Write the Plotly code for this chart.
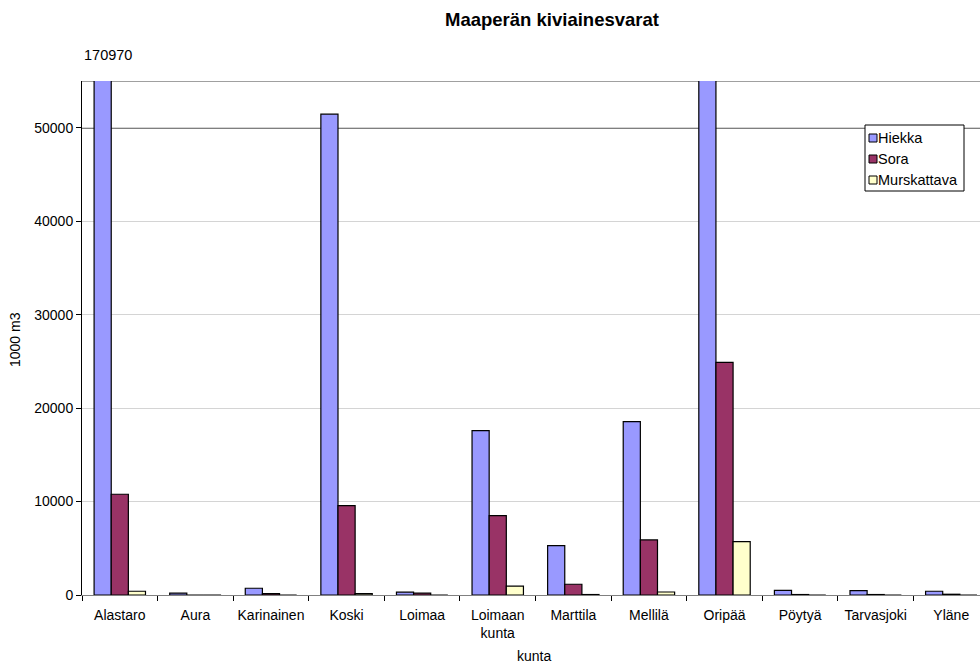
import plotly.graph_objects as go

categories = ["Alastaro", "Aura", "Karinainen", "Koski", "Loimaa", "Loimaan<br>kunta",
              "Marttila", "Mellilä", "Oripää", "Pöytyä", "Tarvasjoki", "Yläne"]
hiekka = [170970, 200, 720, 51450, 300, 17590, 5280, 18560, 70000, 500, 460, 400]
sora = [10780, 0, 150, 9560, 200, 8490, 1150, 5890, 24900, 50, 50, 80]
murskattava = [400, 0, 0, 150, 0, 960, 50, 320, 5710, 0, 0, 0]
series_names = ["Hiekka", "Sora", "Murskattava"]
series_colors = ["#9999FF", "#993366", "#FFFFCC"]
y_ticks = [0, 10000, 20000, 30000, 40000, 50000]

FONT = "Liberation Sans, Arial, sans-serif"
W, H = 980, 664
L, R, T, B = 82, 0, 81, 69
PW, PH = W - L - R, H - T - B


def px(x):
    return (x - L) / PW


def py(y):
    return (H - B - y) / PH


fig = go.Figure()
for name, vals, col in zip(series_names, [hiekka, sora, murskattava], series_colors):
    fig.add_trace(go.Bar(
        x=categories, y=vals, name=name,
        marker=dict(color=col, line=dict(color="#000000", width=1.2)),
    ))

fig.update_layout(
    width=W, height=H,
    margin=dict(l=L, r=R, t=T, b=B),
    paper_bgcolor="white", plot_bgcolor="white",
    barmode="group", bargap=0.32, bargroupgap=0,
    font=dict(family=FONT, size=14, color="black"),
    title=dict(text="<b>Maaperän kiviainesvarat</b>", x=552 / W, xanchor="center",
               y=1 - 20 / H, yanchor="middle", font=dict(size=18.5, family=FONT)),
    showlegend=False,
    xaxis=dict(
        type="category", range=[-0.5, 11.38],
        showline=True, linecolor="#808080", linewidth=1,
        ticks="outside", tickson="boundaries", ticklen=5, tickcolor="#000000",
        showgrid=False, tickangle=0, ticklabelstandoff=7,
        tickfont=dict(size=14),
    ),
    yaxis=dict(
        range=[0, 55000], tickvals=y_ticks, tickformat="d",
        showline=True, linecolor="#000000", linewidth=1,
        ticks="outside", ticklen=5, tickcolor="#000000",
        showgrid=True, gridcolor="#d4d4d4", gridwidth=1,
        zeroline=False,
        tickfont=dict(size=14),
    ),
)

# axis titles
fig.add_annotation(x=px(534), y=py(656), xref="paper", yref="paper", text="kunta",
                   showarrow=False, xanchor="center", yanchor="middle",
                   font=dict(size=14, family=FONT))
fig.add_annotation(x=px(15), y=py(340), xref="paper", yref="paper", text="1000 m3",
                   showarrow=False, xanchor="center", yanchor="middle", textangle=-90,
                   font=dict(size=14, family=FONT))

# frame lines
fig.add_shape(type="line", xref="paper", yref="y", x0=0, x1=1, y0=50000, y1=50000,
              line=dict(color="#000000", width=1.3), layer="below")
fig.add_shape(type="line", xref="paper", yref="y", x0=0, x1=1, y0=55000, y1=55000,
              line=dict(color="#808080", width=1.5), layer="below")

# value label for the clipped bar
fig.add_annotation(x=px(108), y=py(55), xref="paper", yref="paper",
                   text=str(hiekka[0]), showarrow=False, xanchor="center", yanchor="middle",
                   font=dict(size=14.5, family=FONT))

# custom legend
lx0, lx1, ly0, ly1 = 865, 964, 125, 191
fig.add_shape(type="rect", xref="paper", yref="paper", x0=px(lx0), x1=px(lx1),
              y0=py(ly0), y1=py(ly1), line=dict(color="#000000", width=1),
              fillcolor="white", layer="above")
row_y = [138, 159, 180]
for name, col, ry in zip(series_names, series_colors, row_y):
    fig.add_shape(type="rect", xref="paper", yref="paper", x0=px(869), x1=px(877),
                  y0=py(ry - 4), y1=py(ry + 4), line=dict(color="#000000", width=1),
                  fillcolor=col, layer="above")
    fig.add_annotation(x=px(876), y=py(ry), xref="paper", yref="paper", text=name,
                       showarrow=False, xanchor="left", yanchor="middle",
                       font=dict(size=14.5, family=FONT))

fig.write_html("out.html")
